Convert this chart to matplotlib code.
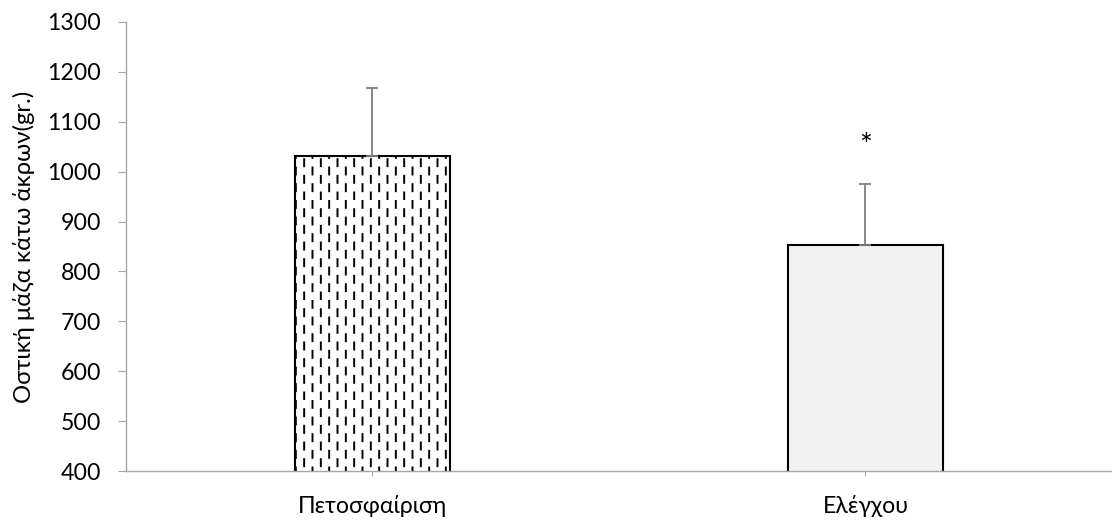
import warnings
import numpy as np
import matplotlib
matplotlib.use("Agg")
import matplotlib.pyplot as plt
from matplotlib import hatch as mhatch
from matplotlib.path import Path

warnings.filterwarnings("ignore")

categories = ["Πετοσφαίριση", "Ελέγχου"]
means = [1031, 853]
sds = [137, 122]
star_y = 1052
yticks = [400, 500, 600, 700, 800, 900, 1000, 1100, 1200, 1300]


# dashed vertical hatch (staggered short dashes), like the Excel pattern
class DashedVertical(mhatch.HatchPatternBase):
    ncols = 12
    nrows = 6
    dash = 0.07

    def __init__(self, hatch, density):
        self.on = "!" in hatch
        self.num_vertices = self.ncols * self.nrows * 2 if self.on else 0

    def set_vertices_and_codes(self, vertices, codes):
        k = 0
        for i in range(self.ncols):
            x = (i + 0.5) / self.ncols
            off = 0.0 if i % 2 == 0 else 0.5 / self.nrows
            for j in range(self.nrows):
                y0 = j / self.nrows + off + 0.005
                vertices[k] = (x, y0)
                vertices[k + 1] = (x, y0 + self.dash)
                codes[k] = Path.MOVETO
                codes[k + 1] = Path.LINETO
                k += 2


mhatch._hatch_types.append(DashedVertical)

plt.rcParams["font.family"] = ["Lato", "DejaVu Sans"]
plt.rcParams["hatch.linewidth"] = 1.4
plt.rcParams["hatch.color"] = "black"

fig = plt.figure(figsize=(11.12, 5.22), dpi=100)
ax = fig.add_axes([0.1133, 0.0977, 0.8867, 0.8602])

x = np.arange(len(categories))
bars = ax.bar(x, means, width=0.316, bottom=0, color=["white", "#f2f2f2"],
              edgecolor="black", linewidth=1.5, zorder=2)
bars[0].set_hatch("!")

ax.errorbar(x, means, yerr=[np.zeros(len(sds)), sds], fmt="none",
            ecolor="#7f7f7f", elinewidth=1.3, capsize=4.3, capthick=1.3, zorder=3)

ax.text(x[1], star_y, "*", ha="center", va="center", fontsize=22)

ax.set_ylim(400, 1300)
ax.set_xlim(-0.5, 1.5)
ax.set_yticks(yticks)
ax.set_xticks(x)
ax.set_xticklabels(categories)
ax.set_ylabel("Οστική μάζα κάτω άκρων(gr.)", fontsize=17.2, labelpad=9)

for s in ["top", "right"]:
    ax.spines[s].set_visible(False)
for s in ["left", "bottom"]:
    ax.spines[s].set_color("#a6a6a6")
    ax.spines[s].set_linewidth(1.0)

ax.tick_params(axis="y", direction="out", length=6, color="#a6a6a6",
               labelsize=16.7, pad=12)
ax.tick_params(axis="x", direction="inout", length=7, color="#a6a6a6",
               labelsize=16.7, pad=13.5)

fig.savefig("out.png", dpi=100)
